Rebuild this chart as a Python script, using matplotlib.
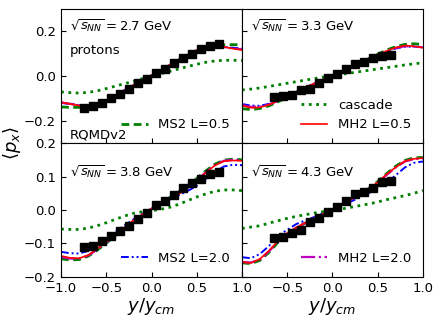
import matplotlib
matplotlib.use("Agg")
import matplotlib.pyplot as plt

# ---------------- DATA ----------------
X_MODEL = [-1.0, -0.9, -0.8, -0.7, -0.6, -0.5, -0.4, -0.3, -0.2, -0.1, 0.0,
           0.1, 0.2, 0.3, 0.4, 0.5, 0.6, 0.7, 0.8, 0.9, 1.0]

ENERGIES = ["2.7", "3.3", "3.8", "4.3"]

X_TICKS = [-1.0, -0.5, 0.0, 0.5, 1.0]
X_TICK_LABELS = ["\u22121.0", "\u22120.5", "0.0", "0.5", "1.0"]

# data points (protons)
X_DATA_27 = [-0.75, -0.65, -0.55, -0.45, -0.35, -0.25, -0.15, -0.05,
             0.05, 0.15, 0.25, 0.35, 0.45, 0.55, 0.65, 0.75]
PX_DATA_27 = [-0.141, -0.135, -0.120, -0.100, -0.079, -0.056, -0.030, -0.014,
              0.012, 0.032, 0.058, 0.080, 0.100, 0.123, 0.133, 0.144]

X_DATA_33 = [-0.65, -0.55, -0.45, -0.35, -0.25, -0.15, -0.05,
             0.05, 0.15, 0.25, 0.35, 0.45, 0.55, 0.65]
PX_DATA_33 = [-0.094, -0.091, -0.083, -0.064, -0.056, -0.030, -0.008,
              0.009, 0.030, 0.055, 0.065, 0.083, 0.088, 0.095]

X_DATA_38 = [-0.75, -0.65, -0.55, -0.45, -0.35, -0.25, -0.15, -0.05,
             0.05, 0.15, 0.25, 0.35, 0.45, 0.55, 0.65, 0.75]
PX_DATA_38 = [-0.111, -0.107, -0.092, -0.079, -0.062, -0.047, -0.027, -0.009,
              0.015, 0.026, 0.045, 0.065, 0.080, 0.093, 0.107, 0.113]

X_DATA_43 = [-0.65, -0.55, -0.45, -0.35, -0.25, -0.15, -0.05,
             0.05, 0.15, 0.25, 0.35, 0.45, 0.55, 0.65]
PX_DATA_43 = [-0.083, -0.080, -0.069, -0.060, -0.037, -0.023, -0.007,
              0.010, 0.028, 0.048, 0.055, 0.067, 0.083, 0.087]

# model curves, 2.7 GeV
CASCADE_27 = [-0.071, -0.074, -0.076, -0.073, -0.066, -0.056, -0.045, -0.034, -0.023, -0.011, 0.000,
              0.010, 0.021, 0.032, 0.043, 0.053, 0.062, 0.068, 0.071, 0.071, 0.070]
MS2_05_27 = [-0.138, -0.140, -0.140, -0.136, -0.127, -0.112, -0.092, -0.069, -0.045, -0.021, 0.002,
             0.025, 0.048, 0.071, 0.093, 0.112, 0.127, 0.136, 0.140, 0.141, 0.140]
MH2_05_27 = [-0.117, -0.125, -0.132, -0.134, -0.126, -0.110, -0.088, -0.064, -0.040, -0.018, 0.003,
             0.025, 0.050, 0.074, 0.097, 0.117, 0.131, 0.136, 0.131, 0.123, 0.117]
MS2_20_27 = [-0.120, -0.125, -0.130, -0.130, -0.123, -0.108, -0.087, -0.063, -0.039, -0.017, 0.004,
             0.026, 0.050, 0.073, 0.095, 0.114, 0.127, 0.132, 0.130, 0.127, 0.124]
MH2_20_27 = [-0.118, -0.124, -0.130, -0.131, -0.127, -0.114, -0.094, -0.070, -0.045, -0.020, 0.002,
             0.024, 0.048, 0.072, 0.095, 0.115, 0.129, 0.134, 0.130, 0.124, 0.120]

# model curves, 3.3 GeV
CASCADE_33 = [-0.062, -0.058, -0.053, -0.046, -0.039, -0.032, -0.025, -0.018, -0.011, -0.004, 0.002,
              0.008, 0.014, 0.020, 0.026, 0.032, 0.038, 0.044, 0.050, 0.055, 0.060]
MS2_05_33 = [-0.146, -0.150, -0.145, -0.133, -0.115, -0.095, -0.075, -0.055, -0.036, -0.017, 0.002,
             0.020, 0.039, 0.058, 0.078, 0.098, 0.117, 0.132, 0.142, 0.145, 0.142]
MH2_05_33 = [-0.132, -0.142, -0.140, -0.128, -0.110, -0.090, -0.070, -0.051, -0.033, -0.015, 0.003,
             0.020, 0.038, 0.056, 0.075, 0.095, 0.113, 0.128, 0.137, 0.134, 0.127]
MS2_20_33 = [-0.125, -0.132, -0.133, -0.124, -0.108, -0.089, -0.070, -0.051, -0.033, -0.015, 0.003,
             0.020, 0.038, 0.056, 0.074, 0.092, 0.110, 0.124, 0.132, 0.132, 0.130]
MH2_20_33 = [-0.130, -0.138, -0.137, -0.127, -0.111, -0.092, -0.072, -0.053, -0.034, -0.016, 0.002,
             0.020, 0.038, 0.056, 0.075, 0.094, 0.112, 0.126, 0.134, 0.133, 0.129]

# model curves, 3.8 GeV
CASCADE_38 = [-0.057, -0.058, -0.058, -0.054, -0.047, -0.038, -0.028, -0.018, -0.010, -0.005, -0.002,
              0.002, 0.008, 0.017, 0.028, 0.039, 0.048, 0.056, 0.060, 0.060, 0.058]
MS2_05_38 = [-0.146, -0.149, -0.148, -0.138, -0.120, -0.099, -0.077, -0.055, -0.034, -0.015, 0.003,
             0.020, 0.037, 0.054, 0.073, 0.094, 0.117, 0.137, 0.149, 0.152, 0.150]
MH2_05_38 = [-0.137, -0.143, -0.144, -0.135, -0.116, -0.095, -0.072, -0.052, -0.031, -0.013, 0.004,
             0.020, 0.034, 0.047, 0.066, 0.088, 0.112, 0.133, 0.146, 0.148, 0.147]
MS2_20_38 = [-0.125, -0.129, -0.130, -0.122, -0.105, -0.086, -0.066, -0.046, -0.028, -0.011, 0.004,
             0.018, 0.031, 0.044, 0.057, 0.072, 0.093, 0.115, 0.130, 0.135, 0.134]
MH2_20_38 = [-0.140, -0.145, -0.145, -0.136, -0.118, -0.097, -0.075, -0.053, -0.033, -0.014, 0.003,
             0.019, 0.034, 0.049, 0.067, 0.089, 0.113, 0.134, 0.147, 0.150, 0.149]

# model curves, 4.3 GeV
CASCADE_43 = [-0.055, -0.051, -0.047, -0.039, -0.032, -0.025, -0.019, -0.014, -0.009, -0.005, -0.002,
              0.003, 0.008, 0.013, 0.018, 0.024, 0.031, 0.037, 0.043, 0.050, 0.058]
MS2_05_43 = [-0.158, -0.160, -0.150, -0.126, -0.096, -0.072, -0.054, -0.039, -0.026, -0.012, 0.002,
             0.016, 0.031, 0.047, 0.064, 0.085, 0.109, 0.131, 0.148, 0.156, 0.157]
MH2_05_43 = [-0.156, -0.158, -0.146, -0.121, -0.092, -0.069, -0.052, -0.038, -0.025, -0.012, 0.002,
             0.016, 0.031, 0.047, 0.063, 0.083, 0.107, 0.128, 0.146, 0.153, 0.155]
MS2_20_43 = [-0.141, -0.144, -0.131, -0.107, -0.077, -0.059, -0.042, -0.031, -0.021, -0.009, 0.003,
             0.014, 0.025, 0.037, 0.050, 0.065, 0.083, 0.104, 0.127, 0.141, 0.145]
MH2_20_43 = [-0.155, -0.157, -0.147, -0.123, -0.094, -0.071, -0.053, -0.039, -0.026, -0.012, 0.002,
             0.016, 0.030, 0.046, 0.062, 0.082, 0.105, 0.127, 0.145, 0.152, 0.154]

PANELS = [
    (X_DATA_27, PX_DATA_27, CASCADE_27, MS2_05_27, MH2_05_27, MS2_20_27, MH2_20_27),
    (X_DATA_33, PX_DATA_33, CASCADE_33, MS2_05_33, MH2_05_33, MS2_20_33, MH2_20_33),
    (X_DATA_38, PX_DATA_38, CASCADE_38, MS2_05_38, MH2_05_38, MS2_20_38, MH2_20_38),
    (X_DATA_43, PX_DATA_43, CASCADE_43, MS2_05_43, MH2_05_43, MS2_20_43, MH2_20_43),
]

# which legend entries go in which panel
LEGEND_KEYS = [["ms2_05"], ["cascade", "mh2_05"], ["ms2_20"], ["mh2_20"]]
# --------------------------------------

FS = 9.5


def main():
    fig, axes = plt.subplots(2, 2, figsize=(4.36, 3.27), dpi=100)
    fig.subplots_adjust(left=0.140, right=0.970, top=0.972, bottom=0.153,
                        hspace=0, wspace=0)

    for i, ax in enumerate(axes.flat):
        xd, yd, casc, ms05, mh05, ms20, mh20 = PANELS[i]
        lines = {}
        lines["cascade"], = ax.plot(X_MODEL, casc, color="green", ls=":", lw=2,
                                    label="cascade")
        lines["ms2_05"], = ax.plot(X_MODEL, ms05, color="green", lw=2,
                                   dashes=(2.8, 1.6), label="MS2 L=0.5")
        lines["ms2_20"], = ax.plot(X_MODEL, ms20, color="blue", lw=1.4,
                                   dashes=(4, 1.5, 1, 1.5, 1, 1.5), label="MS2 L=2.0")
        lines["mh2_20"], = ax.plot(X_MODEL, mh20, color="m", lw=1.6,
                                   ls="-.", label="MH2 L=2.0")
        lines["mh2_05"], = ax.plot(X_MODEL, mh05, color="red", lw=1.2,
                                   ls="-", label="MH2 L=0.5")
        ax.plot(xd, yd, "s", color="black", ms=6, zorder=5)

        ax.set_xlim(-1.0, 1.0)
        ax.set_xticks(X_TICKS)
        if i < 2:
            ax.set_ylim(-0.3, 0.3)
            ax.set_yticks([-0.2, 0.0, 0.2])
            ax.tick_params(labelbottom=False)
        else:
            ax.set_ylim(-0.2, 0.2)
            ax.set_yticks([-0.2, -0.1, 0.0, 0.1, 0.2])
            ax.set_xlabel(r"$y/y_{cm}$", fontsize=13, labelpad=1)
            labels = list(X_TICK_LABELS)
            if i == 3:
                # left panel's "1.0" already sits on the shared edge
                labels[0] = ""
            ax.set_xticklabels(labels)
        if i % 2 == 1:
            ax.tick_params(labelleft=False)
        ax.tick_params(direction="in", labelsize=FS)

        ty = 0.87 if i < 2 else 0.78
        ax.text(0.05, ty, r"$\sqrt{s_{NN}}=$" + ENERGIES[i] + " GeV",
                transform=ax.transAxes, fontsize=FS, va="center")

        keys = LEGEND_KEYS[i]
        ax.legend([lines[k] for k in keys], [lines[k].get_label() for k in keys],
                  loc="lower right", frameon=False, fontsize=FS)

    axes[0, 0].text(0.05, 0.69, "protons", transform=axes[0, 0].transAxes,
                    fontsize=FS, va="center")
    axes[0, 0].text(0.05, 0.06, "RQMDv2", transform=axes[0, 0].transAxes,
                    fontsize=FS, va="center")

    fig.text(0.027, 0.563, r"$\langle p_x \rangle$", rotation=90,
             fontsize=13, ha="center", va="center")

    fig.savefig("out.png", dpi=100)


if __name__ == "__main__":
    main()
